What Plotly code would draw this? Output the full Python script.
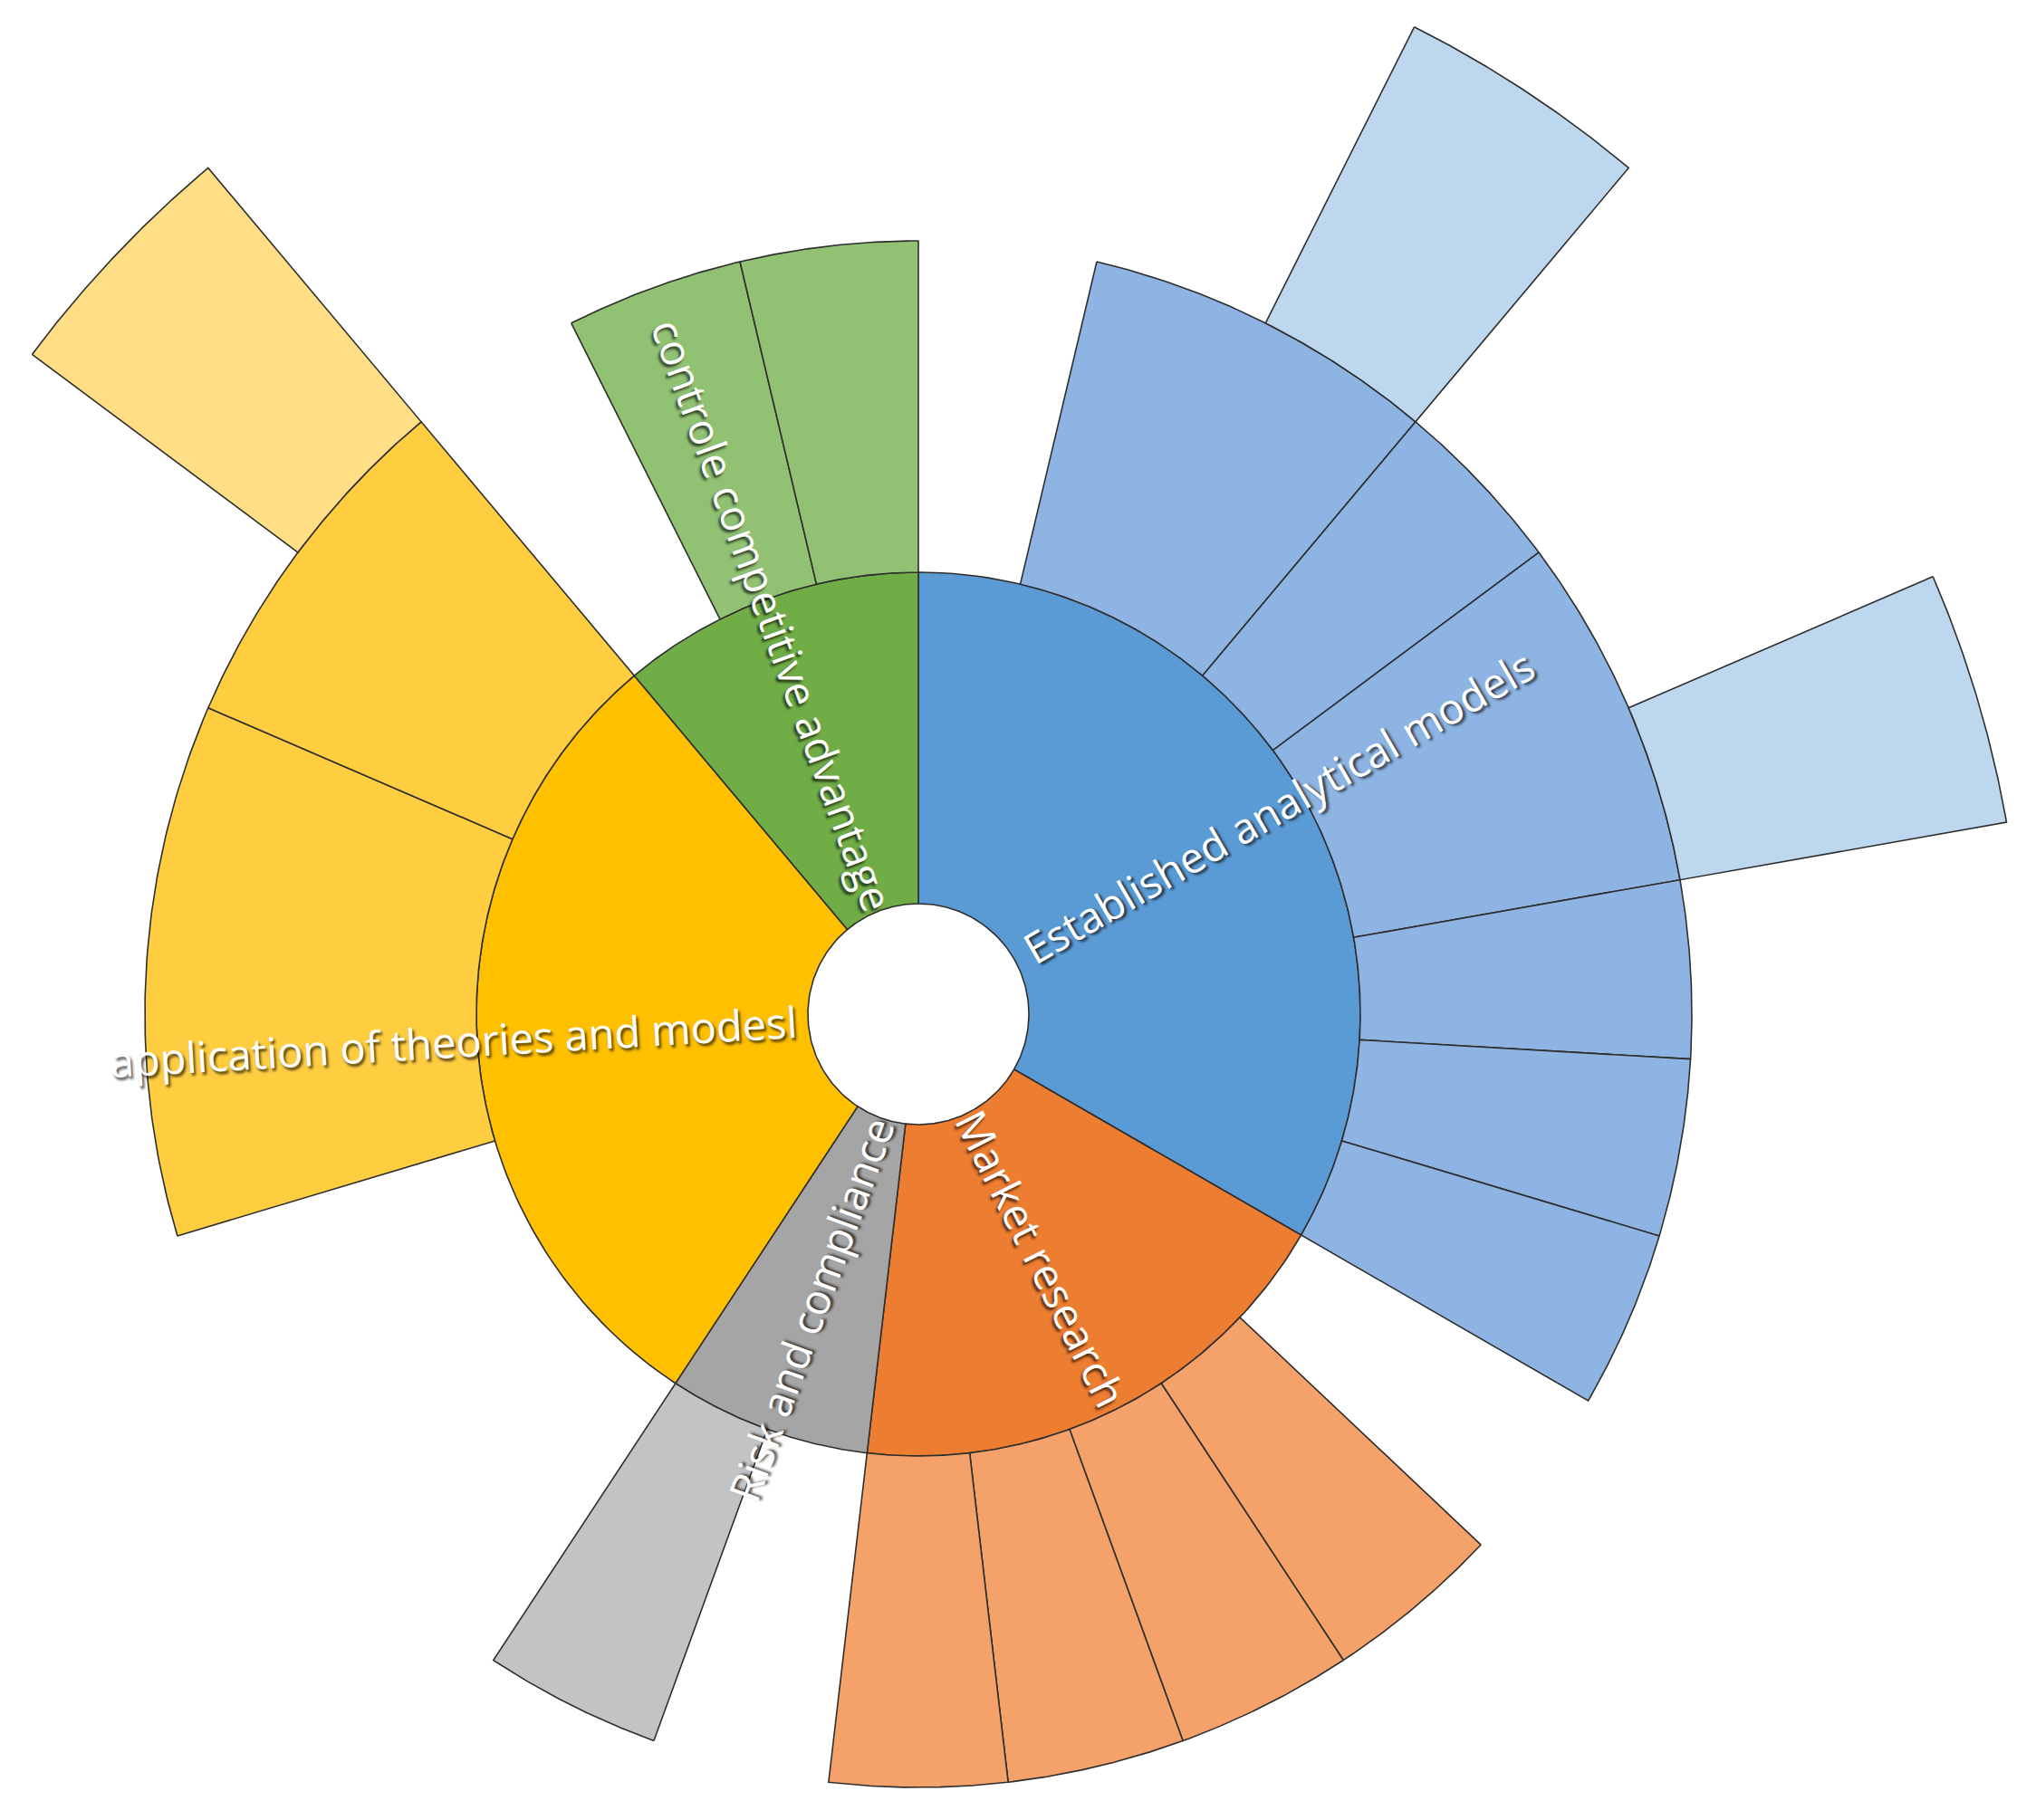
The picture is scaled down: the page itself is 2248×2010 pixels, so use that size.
import numpy as np
import plotly.graph_objects as go

# ---------------- data ----------------
inner_labels = ["Established analytical models", "Market research", "Risk and compliance",
                "application of theories and modesl", "controle competitive advantage"]
inner_values = [9, 5, 2, 8, 3]
inner_colors = ["#5B9BD5", "#ED7D31", "#A5A5A5", "#FFC000", "#70AD47"]
ring2_colors = ["#8DB4E2", "#F4A16A", "#C3C3C3", "#FFCD40", "#91C173"]
ring3_colors = ["#BDD7EE", "#F8CBAD", "#DBDBDB", "#FFDE85", "#C5E0B4"]

# level-2 leaves (parent index, value, drawn?)
l2_parent = [0, 0, 0, 0, 0, 0, 0, 1, 1, 1, 1, 1, 2, 2, 3, 3, 3, 4, 4, 4]
l2_values = [1, 2, 1, 2, 1, 1, 1, 1, 1, 1, 1, 1, 1, 1, 3, 3, 2, 1, 1, 1]
l2_drawn = [0, 1, 1, 1, 1, 1, 1, 0, 1, 1, 1, 1, 0, 1, 0, 1, 1, 0, 1, 1]

# level-3 leaves (parent = index in level-2 list, offset inside parent, value)
l3_parent = [1, 3, 16]
l3_offset = [1, 1, 1]
l3_values = [1, 1, 1]

ring_radii = [1, 4, 7, 10]

# ---------------- geometry helpers ----------------
TOTAL = sum(inner_values)
DEG_PER = 360.0 / TOTAL
UNIT_PX = 122.0
CX, CY = 1006, 1112
W, H = 2248, 2010
EDGE = "#2E2E2E"


def sector(a0, a1, r0, r1, n=80):
    a = np.radians(np.linspace(a0, a1, n))
    xo, yo = r1 * np.sin(a), r1 * np.cos(a)
    xi, yi = r0 * np.sin(a[::-1]), r0 * np.cos(a[::-1])
    x = np.concatenate([xo, xi, xo[:1]])
    y = np.concatenate([yo, yi, yo[:1]])
    return x, y


fig = go.Figure()


def add_sector(a0, a1, r0, r1, color, name):
    x, y = sector(a0, a1, r0, r1)
    fig.add_trace(go.Scatter(x=x, y=y, mode="lines", fill="toself", fillcolor=color,
                             line=dict(color=EDGE, width=1.6), hoverinfo="text",
                             text=name, showlegend=False))


# inner ring
inner_start = np.concatenate([[0], np.cumsum(inner_values)[:-1]])
for i, lab in enumerate(inner_labels):
    a0 = inner_start[i] * DEG_PER
    a1 = (inner_start[i] + inner_values[i]) * DEG_PER
    add_sector(a0, a1, ring_radii[0], ring_radii[1], inner_colors[i], lab)

# level 2
l2_start = np.concatenate([[0], np.cumsum(l2_values)[:-1]])
for j in range(len(l2_values)):
    if not l2_drawn[j]:
        continue
    p = l2_parent[j]
    a0 = l2_start[j] * DEG_PER
    a1 = (l2_start[j] + l2_values[j]) * DEG_PER
    add_sector(a0, a1, ring_radii[1], ring_radii[2], ring2_colors[p], inner_labels[p])

# level 3
for k in range(len(l3_values)):
    j = l3_parent[k]
    p = l2_parent[j]
    s = l2_start[j] + l3_offset[k]
    add_sector(s * DEG_PER, (s + l3_values[k]) * DEG_PER, ring_radii[2], ring_radii[3],
               ring3_colors[p], inner_labels[p])

# ---------------- labels ----------------
FS = 47
CHAR_W = 0.474 * FS / UNIT_PX
annotations = []
for i, lab in enumerate(inner_labels):
    mid = (inner_start[i] + inner_values[i] / 2) * DEG_PER
    ang = mid - 90
    if mid > 180:
        ang -= 180
    L = len(lab) * CHAR_W
    rc = ring_radii[0] + 0.11 + L / 2
    annotations.append(dict(x=rc * np.sin(np.radians(mid)), y=rc * np.cos(np.radians(mid)),
                            xref="x", yref="y", text=lab, showarrow=False, textangle=ang,
                            xanchor="center", yanchor="middle",
                            font=dict(family="Open Sans, Noto Sans, sans-serif", size=FS,
                                      color="white",
                                      shadow="2px 3px 3px rgba(0,0,0,0.7)")))

xr = [-CX / UNIT_PX, (W - CX) / UNIT_PX]
yr = [-(H - CY) / UNIT_PX, CY / UNIT_PX]

fig.update_layout(width=W, height=H, margin=dict(l=0, r=0, t=0, b=0),
                  paper_bgcolor="white", plot_bgcolor="white",
                  xaxis=dict(range=xr, visible=False, fixedrange=True),
                  yaxis=dict(range=yr, visible=False, fixedrange=True),
                  annotations=annotations, showlegend=False)

fig.write_html("out.html")
